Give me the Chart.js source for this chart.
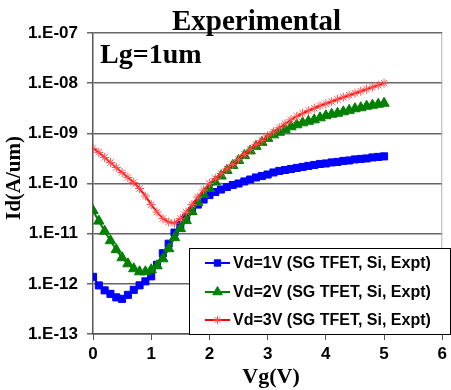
<!DOCTYPE html>
<html>
<head>
<meta charset="utf-8">
<script src="https://cdn.jsdelivr.net/npm/chart.js@4"></script>
<style>
  html, body { margin: 0; padding: 0; background: #fff; }
  #wrap { width: 451px; height: 390px; position: relative; }
</style>
</head>
<body>
<div id="wrap"><canvas id="idvg"></canvas></div>
<script>
// Vg sweep (V)
const vg = [0, 0.1, 0.2, 0.3, 0.4, 0.5, 0.6, 0.7, 0.8, 0.9,
    1.0, 1.1, 1.2, 1.3, 1.4, 1.5, 1.6, 1.7, 1.8, 1.9,
    2.0, 2.1, 2.2, 2.3, 2.4, 2.5, 2.6, 2.7, 2.8, 2.9,
    3.0, 3.1, 3.2, 3.3, 3.4, 3.5, 3.6, 3.7, 3.8, 3.9,
    4.0, 4.1, 4.2, 4.3, 4.4, 4.5, 4.6, 4.7, 4.8, 4.9, 5.0];

// Id (A/um)
const idVd1 = [1.38e-12, 9.3e-13, 7.41e-13, 6.31e-13, 5.37e-13, 5.01e-13, 6.03e-13, 7.59e-13, 9.33e-13, 1.12e-12,
    1.41e-12, 2.40e-12, 4.07e-12, 6.31e-12, 1.05e-11, 1.51e-11, 2.09e-11, 2.82e-11, 3.80e-11, 4.79e-11,
    5.89e-11, 6.76e-11, 7.59e-11, 8.51e-11, 9.33e-11, 1.0e-10, 1.10e-10, 1.20e-10, 1.32e-10, 1.41e-10,
    1.51e-10, 1.66e-10, 1.78e-10, 1.86e-10, 1.95e-10, 2.04e-10, 2.14e-10, 2.24e-10, 2.34e-10, 2.45e-10,
    2.51e-10, 2.63e-10, 2.69e-10, 2.82e-10, 2.88e-10, 3.02e-10, 3.09e-10, 3.16e-10, 3.31e-10, 3.39e-10, 3.47e-10];

const idVd2 = [2.88e-11, 1.78e-11, 1.12e-11, 7.24e-12, 4.79e-12, 3.31e-12, 2.51e-12, 2.0e-12, 1.74e-12, 1.74e-12,
    1.91e-12, 2.29e-12, 3.16e-12, 5.01e-12, 8.32e-12, 1.26e-11, 1.82e-11, 2.75e-11, 4.17e-11, 6.03e-11,
    7.94e-11, 1.07e-10, 1.41e-10, 1.82e-10, 2.29e-10, 2.88e-10, 3.63e-10, 4.47e-10, 5.50e-10, 6.61e-10,
    7.94e-10, 9.33e-10, 1.05e-9, 1.20e-9, 1.35e-9, 1.48e-9, 1.62e-9, 1.74e-9, 1.86e-9, 2.04e-9,
    2.24e-9, 2.40e-9, 2.51e-9, 2.69e-9, 2.88e-9, 3.09e-9, 3.24e-9, 3.47e-9, 3.63e-9, 3.80e-9, 3.98e-9];

const idVd3 = [5.01e-10, 4.17e-10, 3.31e-10, 2.63e-10, 2.09e-10, 1.66e-10, 1.32e-10, 1.05e-10, 7.94e-11, 5.62e-11,
    3.80e-11, 2.69e-11, 2.0e-11, 1.70e-11, 1.62e-11, 2.0e-11, 2.69e-11, 3.80e-11, 5.37e-11, 7.41e-11,
    1.0e-10, 1.26e-10, 1.58e-10, 1.95e-10, 2.40e-10, 3.02e-10, 3.80e-10, 4.79e-10, 6.03e-10, 7.24e-10,
    8.91e-10, 1.07e-9, 1.29e-9, 1.55e-9, 1.86e-9, 2.19e-9, 2.51e-9, 2.82e-9, 3.16e-9, 3.55e-9,
    3.89e-9, 4.27e-9, 4.79e-9, 5.25e-9, 5.75e-9, 6.31e-9, 6.92e-9, 7.59e-9, 8.32e-9, 9.12e-9, 1.0e-8];

const seriesLabels = ['Vd=1V (SG TFET, Si, Expt)', 'Vd=2V (SG TFET, Si, Expt)', 'Vd=3V (SG TFET, Si, Expt)'];

// axis ticks
const xTicks = [0, 1, 2, 3, 4, 5, 6];
const yTickValues = [1e-13, 1e-12, 1e-11, 1e-10, 1e-9, 1e-8, 1e-7];
const yTickLabels = ['1.E-13', '1.E-12', '1.E-11', '1.E-10', '1.E-09', '1.E-08', '1.E-07'];

const toPoints = (ys) => vg.map((x, i) => ({ x: x, y: ys[i] }));

const SERIF = '"Liberation Serif", "Times New Roman", serif';
const SANS = '"Liberation Sans", Arial, sans-serif';

// titles, inner label, frame and legend box
const decorations = {
    id: 'decorations',
    afterDraw(chart) {
        const ctx = chart.ctx;
        const area = chart.chartArea;
        ctx.save();

        // right frame edge
        ctx.strokeStyle = '#b0b0b0';
        ctx.lineWidth = 1;
        ctx.beginPath();
        ctx.moveTo(area.right - 0.5, area.top);
        ctx.lineTo(area.right - 0.5, area.bottom);
        ctx.stroke();

        ctx.fillStyle = '#000';
        ctx.textBaseline = 'alphabetic';
        ctx.textAlign = 'left';
        ctx.font = 'bold 29px ' + SERIF;
        ctx.fillText('Experimental', 172, 30);

        ctx.font = 'bold 28px ' + SERIF;
        ctx.fillText('Lg=1um', 100, 63);

        ctx.textAlign = 'center';
        ctx.font = 'bold 22px ' + SERIF;
        ctx.fillText('Vg(V)', 271, 383);

        ctx.save();
        ctx.translate(20, 178);
        ctx.rotate(-Math.PI / 2);
        ctx.font = 'bold 21px ' + SERIF;
        ctx.fillText('Id(A/um)', 0, 0);
        ctx.restore();

        // legend
        const bx = 189.5, by = 248.5, bw = 261, bh = 86;
        ctx.fillStyle = '#fff';
        ctx.fillRect(bx, by, bw, bh);
        ctx.strokeStyle = '#000';
        ctx.lineWidth = 1;
        ctx.strokeRect(bx, by, bw, bh);

        const rows = [263, 292, 320];
        chart.data.datasets.forEach((ds, i) => {
            const y = rows[i];
            ctx.strokeStyle = ds.borderColor;
            ctx.lineWidth = 2;
            ctx.beginPath();
            ctx.moveTo(205, y);
            ctx.lineTo(230, y);
            ctx.stroke();
            ctx.fillStyle = ds.backgroundColor;
            ctx.strokeStyle = ds.pointBorderColor || ds.borderColor;
            ctx.lineWidth = 1;
            Chart.helpers.drawPoint(ctx, {
                pointStyle: ds.pointStyle,
                radius: ds.pointRadius - 0.5,
                rotation: 0,
                borderWidth: 1
            }, 217.5, y);
            ctx.fillStyle = '#000';
            ctx.textAlign = 'left';
            ctx.textBaseline = 'middle';
            ctx.font = 'bold 16px ' + SANS;
            ctx.fillText(ds.label, 233, y + 1);
        });
        ctx.restore();
    }
};

const ctx = document.getElementById('idvg').getContext('2d');
new Chart(ctx, {
    type: 'line',
    data: {
        datasets: [
            {
                label: seriesLabels[0],
                data: toPoints(idVd1),
                order: 3,
                borderColor: '#0000ff',
                backgroundColor: '#0000ff',
                borderWidth: 2,
                pointStyle: 'rect',
                pointRadius: 5,
                pointBorderWidth: 1
            },
            {
                label: seriesLabels[1],
                data: toPoints(idVd2),
                order: 2,
                borderColor: '#008000',
                backgroundColor: '#008000',
                borderWidth: 2,
                pointStyle: 'triangle',
                pointRadius: 6,
                pointBorderWidth: 1
            },
            {
                label: seriesLabels[2],
                data: toPoints(idVd3),
                order: 1,
                borderColor: '#ff0000',
                backgroundColor: '#ff0000',
                pointBorderColor: '#ff5050',
                borderWidth: 2,
                pointStyle: 'star',
                pointRadius: 4.5,
                pointBorderWidth: 1
            }
        ]
    },
    options: {
        responsive: true,
        maintainAspectRatio: false,
        animation: false,
        layout: {
            padding: { left: 0, top: 33, right: 1, bottom: 0 }
        },
        plugins: {
            legend: { display: false },
            tooltip: { enabled: false }
        },
        scales: {
            x: {
                type: 'linear',
                min: 0,
                max: 6,
                afterBuildTicks: (scale) => { scale.ticks = xTicks.map(v => ({ value: v })); },
                afterFit: (scale) => { scale.height = 56; },
                grid: {
                    drawOnChartArea: false,
                    drawTicks: true,
                    tickLength: 6,
                    color: '#555'
                },
                border: { color: '#555', width: 1.5 },
                ticks: {
                    color: '#000',
                    padding: 4,
                    font: { family: SANS, size: 17, weight: 'bold' }
                }
            },
            y: {
                type: 'logarithmic',
                min: 1e-13,
                max: 1e-7,
                afterBuildTicks: (scale) => { scale.ticks = yTickValues.map(v => ({ value: v })); },
                afterFit: (scale) => { scale.width = 93; },
                grid: {
                    color: '#666',
                    lineWidth: 1.5,
                    tickLength: 6
                },
                border: { color: '#555', width: 1.5 },
                ticks: {
                    color: '#000',
                    padding: 9,
                    font: { family: SANS, size: 17, weight: 'bold' },
                    callback: (value) => {
                        const i = yTickValues.findIndex(v => Math.abs(Math.log10(v) - Math.log10(value)) < 1e-6);
                        return i >= 0 ? yTickLabels[i] : '';
                    }
                }
            }
        }
    },
    plugins: [decorations]
});
</script>
</body>
</html>
